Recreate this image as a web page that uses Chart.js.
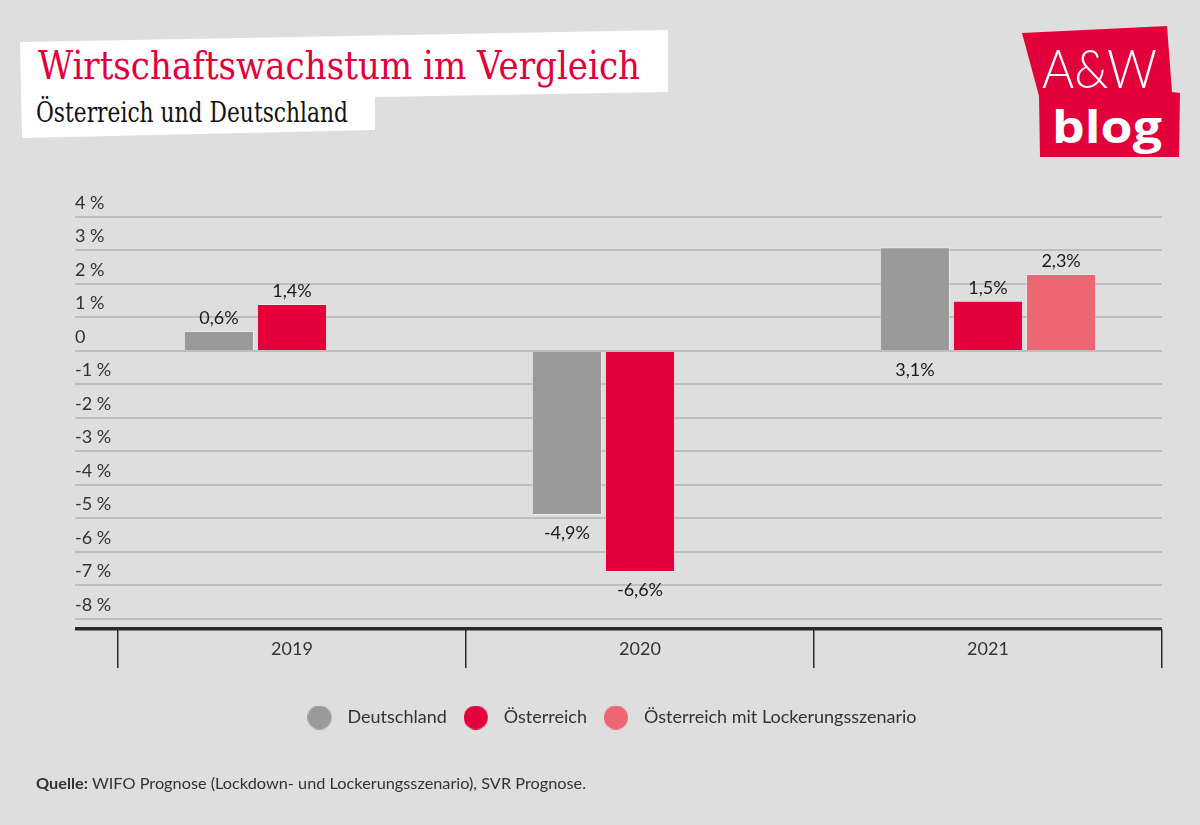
<!DOCTYPE html>
<html lang="de">
<head>
<meta charset="utf-8">
<title>Wirtschaftswachstum im Vergleich</title>
<script src="https://cdn.jsdelivr.net/npm/chart.js@4.4.1/dist/chart.umd.min.js"></script>
<style>
  html, body { margin: 0; padding: 0; background: #dedede; }
  #wrap { position: relative; width: 1200px; height: 825px; overflow: hidden; background: #dedede; }
  #deco { position: absolute; left: 0; top: 0; }
  #chart { position: absolute; left: 0; top: 0; }
  .fit { position: absolute; white-space: nowrap; line-height: 1; transform-origin: 0 0; }
  #title { left: 38px; top: 42px; font: 40px 'DejaVu Serif'; color: #e2003b; }
  #subtitle { left: 36px; top: 97px; font: 27px 'DejaVu Serif'; color: #111; }
  #logo1 { left: 1042px; top: 36px; font: 300 53px Lato; color: #fff; }
  #logo2 { left: 1052px; top: 96px; font: 700 44px 'Open Sans'; color: #fff; }
  #source { left: 36px; top: 773px; font: 16px Lato; color: #333; }
  #source b { font-weight: 700; }
</style>
</head>
<body>
<div id="wrap">
  <svg id="deco" width="1200" height="825">
    <polygon points="20,42 668,30 668,92 375,97 375,130 22,138" fill="#ffffff"/>
    <polygon points="1022,33 1167,26 1172,92 1180,93 1179,157 1040,157 1039,96" fill="#e2003b"/>
  </svg>
  <div class="fit" id="title" data-w="602">Wirtschaftswachstum im Vergleich</div>
  <div class="fit" id="subtitle" data-w="312">Österreich und Deutschland</div>
  <div class="fit" id="logo1" data-w="115">A&amp;W</div>
  <div class="fit" id="logo2" data-w="110">blog</div>
  <canvas id="chart" width="1200" height="825"></canvas>
  <div class="fit" id="source" data-w="550"><b>Quelle:</b> WIFO Prognose (Lockdown- und Lockerungsszenario), SVR Prognose.</div>
</div>
<script>
// ** Data
const years = ['2019', '2020', '2021']
const deutschland = [0.6, -4.9, 3.1]
const oesterreich = [1.4, -6.6, 1.5]
const lockerung = [null, null, 2.3]
const yTicks = [4, 3, 2, 1, 0, -1, -2, -3, -4, -5, -6, -7, -8]
const Y_MIN = -8.3

// ** Colors
const GREY = '#9a9a9a'
const RED = '#e4003a'
const PINK = '#ed6673'

// scale titles/logo text to the reference widths
document.querySelectorAll('.fit[data-w]').forEach(el => {
  const w = el.getBoundingClientRect().width
  el.style.transform = 'scaleX(' + (+el.dataset.w / w) + ')'
})

// legend marker: circle shifted left inside a wider image, so the text sits further away
const legendDot = color => {
  const c = document.createElement('canvas')
  c.width = 44
  c.height = 24
  const g = c.getContext('2d')
  g.fillStyle = color
  g.beginPath()
  g.arc(12, 12, 12, 0, Math.PI * 2)
  g.fill()
  return c
}

const fmt = v => String(v).replace('.', ',') + '%'

// the 2021 Deutschland label sits under the zero line in the original
const underZero = { '0-2': true }

const valueLabels = {
  id: 'valueLabels',
  afterDatasetsDraw(chart) {
    const ctx = chart.ctx
    const zero = chart.scales.y.getPixelForValue(0)
    ctx.save()
    ctx.font = '18px Lato'
    ctx.fillStyle = '#1a1a1a'
    ctx.textAlign = 'center'
    ctx.textBaseline = 'middle'
    chart.data.datasets.forEach((ds, di) => {
      chart.getDatasetMeta(di).data.forEach((bar, i) => {
        const v = ds.data[i]
        if (v === null) return
        let y
        if (underZero[di + '-' + i]) y = zero + 19
        else if (v >= 0) y = bar.y - 13
        else y = bar.y + 18
        ctx.fillText(fmt(v), bar.x, y)
      })
    })
    ctx.restore()
  }
}

const ctx = document.getElementById('chart').getContext('2d')
new Chart(ctx, {
  type: 'bar',
  data: {
    labels: years,
    datasets: [
      { label: 'Deutschland', data: deutschland, backgroundColor: GREY, pointStyle: legendDot(GREY) },
      { label: 'Österreich', data: oesterreich, backgroundColor: RED, pointStyle: legendDot(RED) },
      { label: 'Österreich mit Lockerungsszenario', data: lockerung, backgroundColor: PINK, pointStyle: legendDot(PINK) }
    ]
  },
  options: {
    responsive: false,
    animation: false,
    events: [],
    layout: { padding: { left: 75, right: 38, top: 217, bottom: 88.5 } },
    datasets: {
      bar: {
        categoryPercentage: 0.63,
        barPercentage: 0.96,
        borderWidth: 1,
        borderColor: 'rgba(255,255,255,0.35)'
      }
    },
    scales: {
      x: {
        border: { display: false },
        grid: {
          offset: true,
          drawOnChartArea: false,
          tickLength: 39,
          color: '#2a2a2a',
          lineWidth: 1.5
        },
        ticks: { padding: -30, color: '#333', font: { family: 'Lato', size: 18 } },
        afterFit: s => { s.height = 49.5 }
      },
      y: {
        min: Y_MIN,
        max: 4,
        border: { display: false },
        afterBuildTicks: s => { s.ticks = [Y_MIN].concat(yTicks).map(v => ({ value: v })) },
        afterFit: s => { s.width = 43 },
        grid: {
          tickLength: 43,
          color: c => (c.tick && c.tick.value === Y_MIN ? '#2a2a2a' : '#bdbdbd'),
          lineWidth: c => (c.tick && c.tick.value === Y_MIN ? 3.5 : 2)
        },
        ticks: {
          crossAlign: 'far',
          labelOffset: -14,
          color: '#333',
          font: { family: 'Lato', size: 18 },
          callback: v => (v === Y_MIN ? '' : v === 0 ? '0' : v + ' %')
        }
      }
    },
    plugins: {
      tooltip: { enabled: false },
      legend: {
        position: 'bottom',
        labels: {
          usePointStyle: true,
          padding: 30,
          color: '#333',
          font: { family: 'Lato', size: 18 }
        }
      }
    }
  },
  plugins: [valueLabels]
})
</script>
</body>
</html>
